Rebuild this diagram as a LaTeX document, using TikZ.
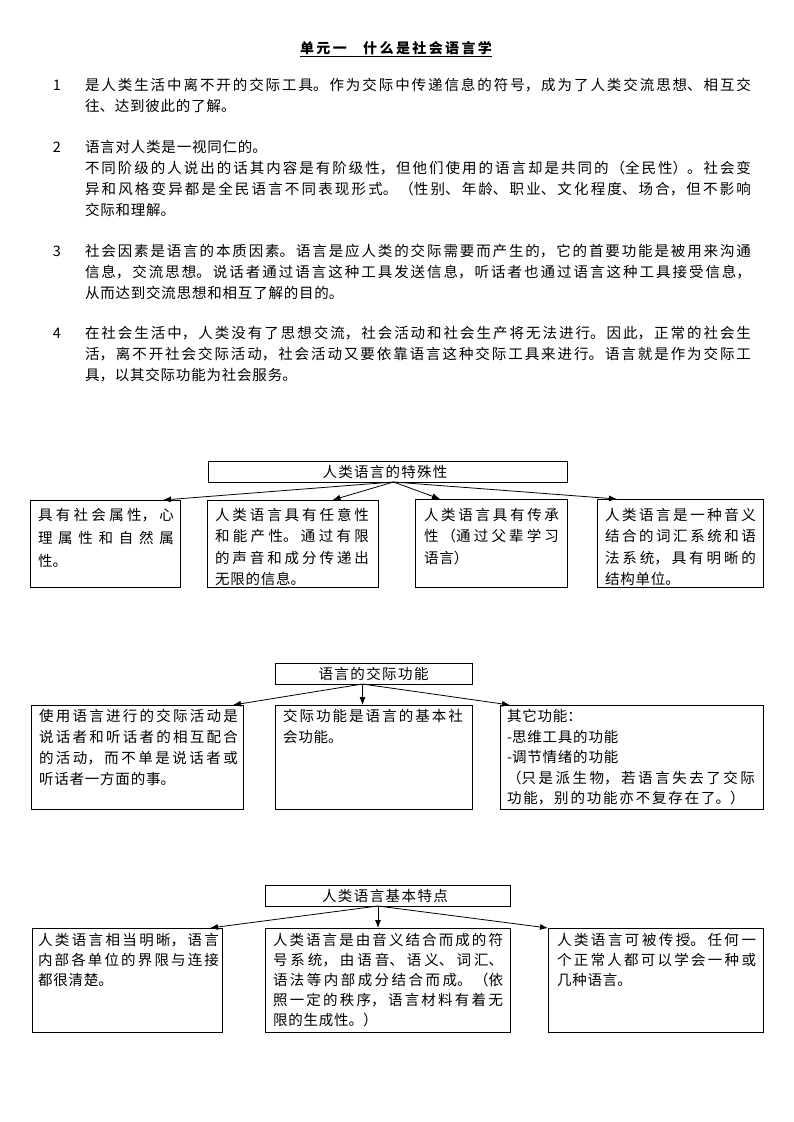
\documentclass[tikz,border=0pt]{standalone}
\usepackage{fontspec}
\setmainfont{Noto Sans CJK SC}
\usetikzlibrary{arrows.meta}
\XeTeXlinebreaklocale "zh"
\XeTeXlinebreakskip=0.8pt plus 4pt
\tolerance=10000
\hbadness=10000
\newcommand{\tb}[3]{\begin{minipage}[t]{#1}\fontsize{14.5pt}{#2}\selectfont#3\end{minipage}}
\newcommand{\jl}[2]{\parbox[t]{#1}{\parfillskip=0pt\relax#2}}
\begin{document}
\begin{tikzpicture}[x=1pt,y=-1pt,
  every node/.style={inner sep=0pt,outer sep=0pt,font=\fontsize{14.5pt}{21pt}\selectfont},
  bx/.style={draw,line width=0.8pt,anchor=north west},
  txt/.style={anchor=base west},
  num/.style={anchor=base},
  lab/.style={anchor=base},
  arr/.style={-{Latex[length=8pt,width=6pt]},line width=0.8pt}]
\useasboundingbox[fill=white] (0,0) rectangle (793,1122);

% title
\node[lab,font=\fontsize{14pt}{21pt}\selectfont\bfseries] (title) at (396,53) {\underline{\jl{192pt}{单元一　什么是社会语言学}}};

% paragraphs
\node[num] (n1) at (57,90.5) {1};
\node[txt] (p1) at (85,90.5) {\tb{666pt}{21pt}{是人类生活中离不开的交际工具。作为交际中传递信息的符号，成为了人类交流思想、相互交\linebreak{}往、达到彼此的了解。}};
\node[num] (n2) at (57,152.5) {2};
\node[txt] (p2) at (85,152.5) {\tb{666pt}{21pt}{语言对人类是一视同仁的。\\不同阶级的人说出的话其内容是有阶级性，但他们使用的语言却是共同的（全民性）。社会变\linebreak{}异和风格变异都是全民语言不同表现形式。（性别、年龄、职业、文化程度、场合，但不影响\linebreak{}交际和理解。}};
\node[num] (n3) at (57,256.5) {3};
\node[txt] (p3) at (85,256.5) {\tb{666pt}{21pt}{社会因素是语言的本质因素。语言是应人类的交际需要而产生的，它的首要功能是被用来沟通\linebreak{}信息，交流思想。说话者通过语言这种工具发送信息，听话者也通过语言这种工具接受信息，\linebreak{}从而达到交流思想和相互了解的目的。}};
\node[num] (n4) at (57,338.5) {4};
\node[txt] (p4) at (85,338.5) {\tb{666pt}{21pt}{在社会生活中，人类没有了思想交流，社会活动和社会生产将无法进行。因此，正常的社会生\linebreak{}活，离不开社会交际活动，社会活动又要依靠语言这种交际工具来进行。语言就是作为交际工\linebreak{}具，以其交际功能为社会服务。}};

% ---------- diagram 1
\node[bx,minimum width=359pt,minimum height=21pt] (h1) at (208,461) {};
\node[lab] (h1t) at (385,477) {\jl{125pt}{人类语言的特殊性}};
\node[bx,minimum width=150pt,minimum height=87pt] (a1) at (30,500) {};
\node[bx,minimum width=171pt,minimum height=87pt] (a2) at (207,500) {};
\node[bx,minimum width=152pt,minimum height=88pt] (a3) at (415,499) {};
\node[bx,minimum width=166pt,minimum height=88pt] (a4) at (597,499) {};
\node[txt] (a1t) at (38,520) {\tb{136pt}{23pt}{具有社会属性，心\linebreak{}理属性和自然属\linebreak{}性。}};
\node[txt] (a2t) at (215,520) {\tb{154pt}{21.5pt}{人类语言具有任意性\linebreak{}和能产性。通过有限\linebreak{}的声音和成分传递出\linebreak{}无限的信息。}};
\node[txt] (a3t) at (424,520) {\tb{135pt}{21.5pt}{人类语言具有传承\linebreak{}性（通过父辈学习\linebreak{}语言）}};
\node[txt] (a4t) at (605,520) {\tb{151pt}{21.5pt}{人类语言是一种音义\linebreak{}结合的词汇系统和语\linebreak{}法系统，具有明晰的\linebreak{}结构单位。}};
\draw[arr] ([xshift=6pt]h1.south) -- ([xshift=58pt]a1.north);
\draw[arr] ([xshift=6pt]h1.south) -- ([xshift=40pt]a2.north);
\draw[arr] ([xshift=6pt]h1.south) -- ([xshift=-51pt]a3.north);
\draw[arr] ([xshift=6pt]h1.south) -- ([xshift=-63pt]a4.north);

% ---------- diagram 2
\node[bx,minimum width=197pt,minimum height=21pt] (h2) at (275,663) {};
\node[lab] (h2t) at (373.5,679) {\jl{110pt}{语言的交际功能}};
\node[bx,minimum width=212pt,minimum height=104pt] (b1) at (31,705) {};
\node[bx,minimum width=197pt,minimum height=104pt] (b2) at (275,705) {};
\node[bx,minimum width=263pt,minimum height=104pt] (b3) at (500,705) {};
\node[txt] (b1t) at (39,721.5) {\tb{199pt}{21pt}{使用语言进行的交际活动是\linebreak{}说话者和听话者的相互配合\linebreak{}的活动，而不单是说话者或\linebreak{}听话者一方面的事。}};
\node[txt] (b2t) at (283,721.5) {\tb{180pt}{21pt}{交际功能是语言的基本社\linebreak{}会功能。}};
\node[txt] (b3t) at (507,721.5) {\tb{248pt}{20.5pt}{\parfillskip=0pt plus 40pt\relax{}其它功能：\\-思维工具的功能\\-调节情绪的功能\\（只是派生物，若语言失去了交际\linebreak{}功能，别的功能亦不复存在了。）}};
\draw[arr] ([xshift=-11pt]h2.south) -- ([xshift=96pt]b1.north);
\draw[arr] ([xshift=-11pt]h2.south) -- ([xshift=-11pt]b2.north);
\draw[arr] ([xshift=-11pt]h2.south) -- ([xshift=-121.5pt]b3.north);

% ---------- diagram 3
\node[bx,minimum width=245pt,minimum height=21pt] (h3) at (265,885) {};
\node[lab] (h3t) at (385,901) {\jl{126pt}{人类语言基本特点}};
\node[bx,minimum width=190pt,minimum height=104pt] (c1) at (32,928) {};
\node[bx,minimum width=245pt,minimum height=104pt] (c2) at (265,928) {};
\node[bx,minimum width=215pt,minimum height=104pt] (c3) at (548,928) {};
\node[txt] (c1t) at (38,945.5) {\tb{181pt}{20pt}{人类语言相当明晰，语言\linebreak{}内部各单位的界限与连接\linebreak{}都很清楚。}};
\node[txt] (c2t) at (273,945.5) {\tb{230pt}{20pt}{人类语言是由音义结合而成的符\linebreak{}号系统，由语音、语义、词汇、\linebreak{}语法等内部成分结合而成。（依\linebreak{}照一定的秩序，语言材料有着无\linebreak{}限的生成性。）}};
\node[txt] (c3t) at (557,945.5) {\tb{199pt}{20pt}{人类语言可被传授。任何一\linebreak{}个正常人都可以学会一种或\linebreak{}几种语言。}};
\draw[arr] ([xshift=-9.5pt]h3.south) -- ([xshift=83pt]c1.north);
\draw[arr] ([xshift=-9.5pt]h3.south) -- ([xshift=-9.5pt]c2.north);
\draw[arr] ([xshift=-9.5pt]h3.south) -- ([xshift=-107.5pt]c3.north);
\end{tikzpicture}
\end{document}
